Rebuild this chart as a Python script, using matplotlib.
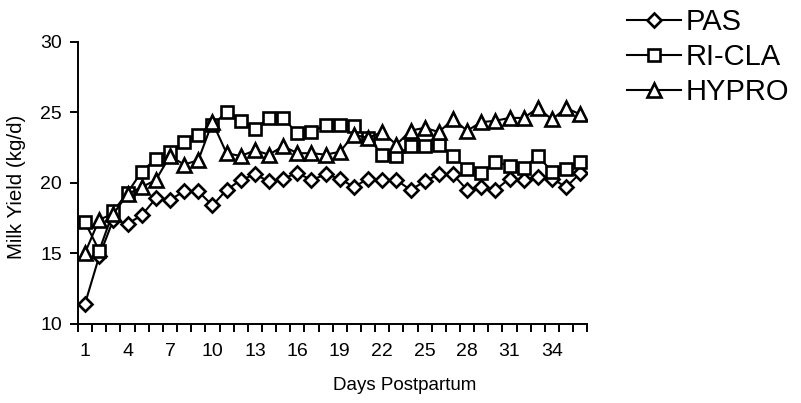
import matplotlib
matplotlib.use("Agg")
import matplotlib.pyplot as plt
import numpy as np

plt.rcParams['font.family'] = ['Liberation Sans', 'DejaVu Sans']

days = list(range(1, 37))
pas = [11.45, 14.8, 17.4, 17.1, 17.7, 18.9, 18.8, 19.4, 19.4, 18.4, 19.5, 20.2,
       20.6, 20.1, 20.3, 20.7, 20.2, 20.6, 20.3, 19.7, 20.3, 20.2, 20.2, 19.5,
       20.1, 20.6, 20.6, 19.5, 19.7, 19.5, 20.3, 20.2, 20.4, 20.3, 19.7, 20.7]
ricla = [17.2, 15.2, 18.0, 19.3, 20.8, 21.7, 22.2, 22.9, 23.4, 24.1, 25.0, 24.4,
         23.8, 24.6, 24.6, 23.5, 23.6, 24.1, 24.1, 24.0, 23.2, 22.0, 21.9, 22.6,
         22.6, 22.7, 21.9, 21.0, 20.7, 21.5, 21.2, 21.05, 21.9, 20.8, 21.0, 21.5]
hypro = [15.05, 17.4, 17.8, 19.2, 19.7, 20.2, 21.9, 21.3, 21.6, 24.3, 22.1, 21.9,
         22.3, 22.0, 22.6, 22.1, 22.1, 22.0, 22.2, 23.4, 23.2, 23.6, 22.7, 23.7,
         23.9, 23.6, 24.5, 23.7, 24.3, 24.4, 24.6, 24.6, 25.3, 24.5, 25.3, 24.85]
series_names = ["PAS", "RI-CLA", "HYPRO"]
xtick_labels = [1, 4, 7, 10, 13, 16, 19, 22, 25, 28, 31, 34]
yticks = [10, 15, 20, 25, 30]

fig = plt.figure(figsize=(8.01, 4.03), dpi=100)
ax = fig.add_axes([78/801, 1-324/403, (587.4-78)/801, (324-41.7)/403])

common = dict(color='black', lw=1.5, mfc='white', mec='black', mew=1.9)
ax.plot(days, pas, marker='D', ms=7.5, label=series_names[0], **common)
ax.plot(days, ricla, marker='s', ms=9, label=series_names[1], **common)
ax.plot(days, hypro, marker='^', ms=9.5, label=series_names[2], **common)

ax.set_xlim(0.5, 36.5)
ax.set_ylim(10, 30)
ax.set_yticks(yticks)
ax.set_xticks(xtick_labels)
ax.set_xticklabels([str(v) for v in xtick_labels])
ax.set_xticks(np.arange(0.5, 37, 1), minor=True)
ax.tick_params(axis='x', which='major', length=0, pad=14, labelsize=14)
ax.tick_params(axis='x', which='minor', length=6, width=1.4, direction='out')
ax.tick_params(axis='y', which='major', length=5.5, width=1.4, pad=6, labelsize=14)
for s in ['top', 'right']:
    ax.spines[s].set_visible(False)
for s in ['left', 'bottom']:
    ax.spines[s].set_linewidth(1.4)

ax.set_xlabel("Days Postpartum", fontsize=13.5)
ax.xaxis.set_label_coords((405-78)/509.4, -(385-324)/282.3)
ax.xaxis.label.set_va('center')
ax.set_ylabel("Milk Yield (kg/d)", fontsize=14.8)
ax.yaxis.set_label_coords(-(78-17)/509.4, (324-187)/282.3)
ax.yaxis.label.set_va('center')

leg = fig.legend(loc='upper left', bbox_to_anchor=(627/801, 1-8/403),
                 frameon=False, fontsize=21, handlelength=1.85,
                 handletextpad=0.17, labelspacing=0.24, borderpad=0,
                 borderaxespad=0)

fig.savefig("out.png", dpi=100)
